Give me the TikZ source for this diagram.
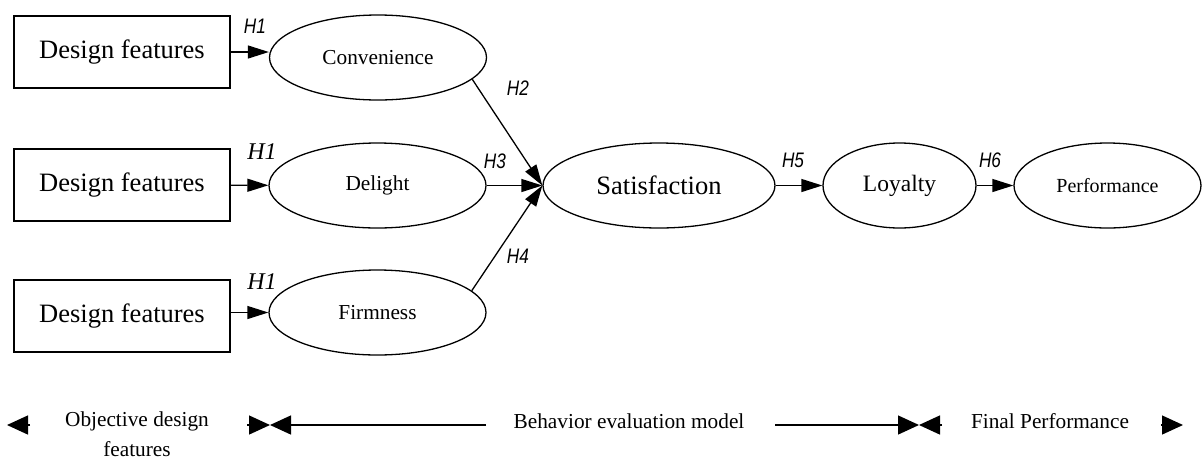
\documentclass[tikz,border=0pt]{standalone}
\usepackage{fontspec}
\setmainfont{Liberation Serif}
\newfontfamily\hfont[FakeStretch=0.82]{Liberation Sans}
\usepackage{tikz}
\usetikzlibrary{positioning,shapes.geometric,arrows.meta}

\begin{document}
\begin{tikzpicture}[x=1pt,y=-1pt,
	box/.style={draw, line width=1.3pt, minimum width=216pt, minimum height=72pt, inner sep=0, font=\fontsize{26.5}{30}\selectfont},
	oval/.style={draw, ellipse, line width=1.3pt, inner sep=0, minimum width=217pt, minimum height=85pt, font=\fontsize{21.3}{25}\selectfont},
	hyp/.style={inner sep=0, font=\fontsize{21}{24}\selectfont\hfont\itshape},
	hyptm/.style={inner sep=0, font=\fontsize{24}{27}\selectfont\itshape},
	arr/.style={line width=1.3pt, -{Triangle[length=21pt,width=13pt]}},
	band/.style={line width=1.3pt, -{Triangle[length=21pt,width=19pt]}},
	zone/.style={inner sep=0, align=center, font=\fontsize{21.3}{30}\selectfont}]
	\useasboundingbox (0,0) rectangle (1203,459);
	\foreach \n/\y in {1/52,2/185,3/316} {
		\node[box] (df\n) at (122,\y) {Design features};
	};
	\node[oval] (conv) at (378,57.5) {Convenience};
	\node[oval] (delight) at (377.5,185.5) {Delight};
	\node[oval] (firm) at (377.5,312.5) {Firmness};
	\node[oval, minimum width=232pt, font=\fontsize{26.5}{30}\selectfont] (sat) at (659,185.5) {Satisfaction};
	\node[oval, minimum width=153pt, font=\fontsize{23.5}{27}\selectfont] (loyal) at (899.5,185.5) {Loyalty};
	\node[oval, minimum width=187pt, font=\fontsize{20}{24}\selectfont] (perf) at (1107.5,185.5) {Performance};
	% hypotheses
	\node[hyp] (h1a) at (255,26) {H1};
	\node[hyptm] (h1b) at (262,152) {H1};
	\node[hyptm] (h1c) at (262,282) {H1};
	\node[hyp] (h2) at (518,88) {H2};
	\node[hyp] (h3) at (495,161) {H3};
	\node[hyp] (h4) at (518,256) {H4};
	\node[hyp] (h5) at (793,160) {H5};
	\node[hyp] (h6) at (990,160) {H6};
	\draw[arr] (df1.east) -- (df1.east -| conv.west);
	\draw[arr] (df2) -- (delight);
	\draw[arr] (df3.east |- firm.west) -- (firm.west);
	\draw[arr] (conv.-13) -- (sat.west);
	\draw[arr] (delight) -- (sat);
	\draw[arr] (firm.13) -- (sat.west);
	\draw[arr] (sat) -- (loyal);
	\draw[arr] (loyal) -- (perf);
	% stages
	\node[zone] (objdes) at (137,434) {Objective design\\features};
	\node[zone] (behav) at (629,421) {Behavior evaluation model};
	\node[zone] (finperf) at (1050,421) {Final Performance};
	\coordinate (o0) at (7,425);
	\coordinate (o1) at (30,425);
	\coordinate (o2) at (247,425);
	\coordinate (o3) at (270,425);
	\coordinate (b1) at (486,425);
	\coordinate (b2) at (775,425);
	\coordinate (b3) at (919,425);
	\coordinate (f1) at (942,425);
	\coordinate (f2) at (1161,425);
	\coordinate (f3) at (1183,425);
	\draw[band] (o1) -- (o0);
	\draw[band] (o2) -- (o3);
	\draw[band] (b1) -- (o3);
	\draw[band] (b2) -- (b3);
	\draw[band] (f1) -- (b3);
	\draw[band] (f2) -- (f3);
\end{tikzpicture}
\end{document}
